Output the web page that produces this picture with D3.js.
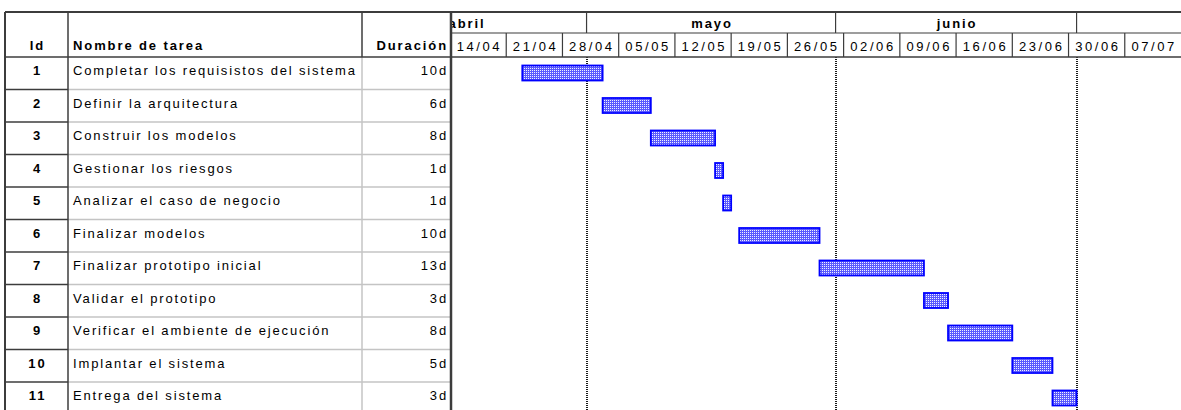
<!DOCTYPE html>
<html>
<head>
<meta charset="utf-8">
<script src="https://cdn.jsdelivr.net/npm/d3@7"></script>
<style>
  body { margin: 0; background: #fff; }
  text { font-family: "Liberation Sans", Arial, sans-serif; font-size: 13px; fill: #000; }
</style>
</head>
<body>
<div class="gantt"></div>
<script>
// task table
var taskIds = [1, 2, 3, 4, 5, 6, 7, 8, 9, 10, 11];
var taskNames = [
  "Completar los requisistos del sistema",
  "Definir la arquitectura",
  "Construir los modelos",
  "Gestionar los riesgos",
  "Analizar el caso de negocio",
  "Finalizar modelos",
  "Finalizar prototipo inicial",
  "Validar el prototipo",
  "Verificar el ambiente de ejecución",
  "Implantar el sistema",
  "Entrega del sistema"
];
var durations = ["10d", "6d", "8d", "1d", "1d", "10d", "13d", "3d", "8d", "5d", "3d"];
var startDates = ["2008-04-23", "2008-05-03", "2008-05-09", "2008-05-17", "2008-05-18", "2008-05-20",
                  "2008-05-30", "2008-06-12", "2008-06-15", "2008-06-23", "2008-06-28"];
var endDates = ["2008-05-03", "2008-05-09", "2008-05-17", "2008-05-18", "2008-05-19", "2008-05-30",
                "2008-06-12", "2008-06-15", "2008-06-23", "2008-06-28", "2008-07-01"];

// timescale
var weekLabels = ["14/04", "21/04", "28/04", "05/05", "12/05", "19/05", "26/05",
                  "02/06", "09/06", "16/06", "23/06", "30/06", "07/07"];
var monthLabels = ["abril", "mayo", "junio"];
var monthStarts = ["2008-04-01", "2008-05-01", "2008-06-01", "2008-07-01"];
var viewStart = "2008-04-14";
var viewEnd = "2008-07-14";

var svgWidth = 1181;
var svgHeight = 410;

var topY = 12, monthBottom = 33, headerBottom = 57, rowH = 32.5;
var colLeft = 5, colId = 68, colName = 362, colDur = 451;

var parseDate = d3.timeParse("%Y-%m-%d");
var darkLine = "#3c3c3c";
var lightLine = "#c4c4c4";

var tasks = taskIds.map((id, i) => ({
  id: id,
  name: taskNames[i],
  dur: durations[i],
  start: parseDate(startDates[i]),
  end: parseDate(endDates[i])
}));

var weeks = weekLabels.map(w => new Date(2008, +w.slice(3) - 1, +w.slice(0, 2)));
var monthDates = monthStarts.map(parseDate);
var months = monthLabels.map((m, i) => ({
  label: m, start: monthDates[i], end: monthDates[i + 1]
}));

var svg = d3.select(".gantt")
  .append("svg")
  .attr("width", svgWidth)
  .attr("height", svgHeight);

var x = d3.scaleTime()
  .domain([parseDate(viewStart), parseDate(viewEnd)])
  .range([450, svgWidth]);

var y = d3.scaleBand()
  .domain(taskIds)
  .range([headerBottom, headerBottom + rowH * taskIds.length]);

var defs = svg.append("defs");
var pat = defs.append("pattern")
  .attr("id", "dots")
  .attr("patternUnits", "userSpaceOnUse")
  .attr("width", 2).attr("height", 2);
pat.append("rect").attr("width", 2).attr("height", 2).attr("fill", "#5a5aff");
pat.append("rect").attr("width", 1).attr("height", 1).attr("fill", "#f0f0ff");

defs.append("clipPath").attr("id", "clipTime")
  .append("rect").attr("x", colDur + 1).attr("y", 0).attr("width", svgWidth).attr("height", svgHeight);
defs.append("clipPath").attr("id", "clipName")
  .append("rect").attr("x", colId).attr("y", 0).attr("width", colName - colId - 1).attr("height", svgHeight);

// ---- timescale header ----
var timeHead = svg.append("g").attr("clip-path", "url(#clipTime)");

timeHead.selectAll(".month-sep")
  .data(monthDates)
  .enter()
  .append("line")
  .attr("x1", d => x(d)).attr("x2", d => x(d))
  .attr("y1", topY).attr("y2", monthBottom)
  .attr("stroke", darkLine).attr("stroke-width", 1.2);

timeHead.selectAll(".month-label")
  .data(months)
  .enter()
  .append("text")
  .attr("x", d => (x(d.start) + x(d.end)) / 2 + 1)
  .attr("y", 28)
  .attr("text-anchor", "middle")
  .style("font-weight", "bold")
  .style("letter-spacing", "1.9px")
  .text(d => d.label);

timeHead.selectAll(".week-sep")
  .data(weeks)
  .enter()
  .append("line")
  .attr("x1", d => x(d)).attr("x2", d => x(d))
  .attr("y1", monthBottom).attr("y2", headerBottom)
  .attr("stroke", darkLine).attr("stroke-width", 1.2);

timeHead.selectAll(".week-label")
  .data(weeks)
  .enter()
  .append("text")
  .attr("x", d => x(d) + (x(d3.timeDay.offset(d, 7)) - x(d)) / 2 + 1.3)
  .attr("y", 51)
  .attr("text-anchor", "middle")
  .style("letter-spacing", "2.6px")
  .text((d, i) => weekLabels[i]);

// ---- row lines ----
var rows = svg.append("g");
rows.selectAll(".row-id")
  .data(taskIds.slice(0, -1))
  .enter()
  .append("line")
  .attr("x1", colLeft).attr("x2", colId)
  .attr("y1", d => y(d) + rowH).attr("y2", d => y(d) + rowH)
  .attr("stroke", darkLine).attr("stroke-width", 1.5);

rows.selectAll(".row-body")
  .data(taskIds.slice(0, -1))
  .enter()
  .append("line")
  .attr("x1", colId).attr("x2", colDur)
  .attr("y1", d => y(d) + rowH).attr("y2", d => y(d) + rowH)
  .attr("stroke", lightLine).attr("stroke-width", 1.5);

// name/duration divider: dark in header, light in body
svg.append("line")
  .attr("x1", colName).attr("x2", colName).attr("y1", topY).attr("y2", headerBottom)
  .attr("stroke", darkLine).attr("stroke-width", 1.5);
svg.append("line")
  .attr("x1", colName).attr("x2", colName).attr("y1", headerBottom).attr("y2", svgHeight)
  .attr("stroke", lightLine).attr("stroke-width", 1.5);

// month boundaries in chart area
svg.append("g").attr("clip-path", "url(#clipTime)")
  .selectAll("line")
  .data(monthDates.slice(1))
  .enter()
  .append("line")
  .attr("x1", d => Math.round(x(d))).attr("x2", d => Math.round(x(d)))
  .attr("y1", headerBottom).attr("y2", svgHeight)
  .attr("stroke", "#1a1a1a").attr("stroke-width", 2)
  .attr("stroke-dasharray", "1,1");

// frame lines
svg.append("line").attr("x1", colLeft).attr("x2", svgWidth).attr("y1", topY).attr("y2", topY)
  .attr("stroke", darkLine).attr("stroke-width", 2);
svg.append("line").attr("x1", colDur).attr("x2", svgWidth).attr("y1", monthBottom).attr("y2", monthBottom)
  .attr("stroke", darkLine).attr("stroke-width", 1.2);
svg.append("line").attr("x1", colLeft).attr("x2", svgWidth).attr("y1", headerBottom).attr("y2", headerBottom)
  .attr("stroke", darkLine).attr("stroke-width", 1.5);
svg.append("line").attr("x1", colLeft).attr("x2", colLeft).attr("y1", topY).attr("y2", svgHeight)
  .attr("stroke", darkLine).attr("stroke-width", 2);
svg.append("line").attr("x1", colId).attr("x2", colId).attr("y1", topY).attr("y2", svgHeight)
  .attr("stroke", darkLine).attr("stroke-width", 1.5);
svg.append("line").attr("x1", colDur).attr("x2", colDur).attr("y1", topY).attr("y2", svgHeight)
  .attr("stroke", darkLine).attr("stroke-width", 2.5);

// ---- table header ----
var head = svg.append("g").style("font-weight", "bold").style("letter-spacing", "1.9px");
head.append("text").attr("x", (colLeft + colId) / 2 + 1).attr("y", 50).attr("text-anchor", "middle").text("Id");
head.append("text").attr("x", colId + 5).attr("y", 50).text("Nombre de tarea");
head.append("text").attr("x", colDur - 3).attr("y", 50).attr("text-anchor", "end").text("Duración");

// ---- table body ----
svg.append("g").selectAll("text")
  .data(tasks)
  .enter()
  .append("text")
  .attr("x", (colLeft + colId) / 2 + 1)
  .attr("y", d => y(d.id) + 18)
  .attr("text-anchor", "middle")
  .style("font-weight", "bold")
  .style("letter-spacing", "1.9px")
  .text(d => d.id);

svg.append("g").attr("clip-path", "url(#clipName)")
  .selectAll("text")
  .data(tasks)
  .enter()
  .append("text")
  .attr("x", colId + 5)
  .attr("y", d => y(d.id) + 18)
  .style("letter-spacing", "1.85px")
  .text(d => d.name);

svg.append("g").selectAll("text")
  .data(tasks)
  .enter()
  .append("text")
  .attr("x", colDur - 3)
  .attr("y", d => y(d.id) + 18)
  .attr("text-anchor", "end")
  .style("letter-spacing", "1.85px")
  .text(d => d.dur);

// ---- bars ----
svg.append("g").attr("clip-path", "url(#clipTime)")
  .selectAll("rect")
  .data(tasks)
  .enter()
  .append("rect")
  .attr("x", d => x(d.start))
  .attr("y", d => y(d.id) + 8.5)
  .attr("width", d => x(d.end) - x(d.start))
  .attr("height", 15)
  .attr("fill", "url(#dots)")
  .attr("stroke", "#0000ff")
  .attr("stroke-width", 1.8);
</script>
</body>
</html>
